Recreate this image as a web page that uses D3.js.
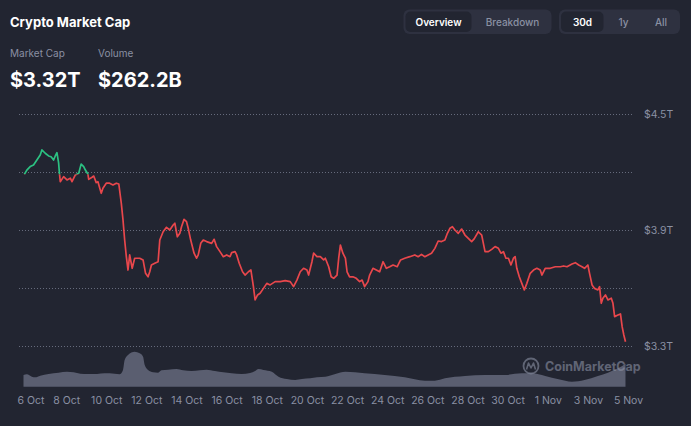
<!DOCTYPE html>
<html>
<head>
<meta charset="utf-8">
<script src="https://cdn.jsdelivr.net/npm/d3@7"></script>
<style>
  html, body { margin: 0; padding: 0; background: #222531; }
  svg { display: block; font-family: Inter, "Noto Sans", sans-serif; }
</style>
</head>
<body>
<svg id="chart" width="691" height="426"></svg>
<script>
// ---------- DATA ----------
const startDate = "2025-10-06T00:00:00";
const endDate = "2025-11-05T00:00:00";
// hours after 6 Oct 00:00
const hours = [-2,1,5,9,13,17,19,23,27,30,33,35,37,39,40,41,45,49,53,55,59,63,66,69,71,74,75,79,81,84,86,90,92,96,100,104,108,111,114,116,118,120,122,124,127,130,136,140,143,146,148,150,154,158,160,164,168,172,176,178,181,184,186,189,192,194,197,201,204,206,209,212,216,222,225,228,232,236,240,244,246,250,252,255,259,262,266,269,272,274,277,280,284,288,292,298,304,310,316,320,324,328,332,336,338,342,344,348,352,356,358,362,365,368,372,374,376,379,382,384,387,391,395,399,402,405,409,411,415,419,423,427,431,435,439,444,448,453,459,465,469,473,477,481,485,489,493,497,501,504,507,510,513,517,521,525,529,533,536,541,545,547,549,553,557,561,565,568,571,574,577,580,583,585,587,590,593,596,599,603,607,611,615,617,621,627,633,639,643,647,653,657,661,665,668,672,674,677,680,684,686,688,690,693,696,700,702,704,708,711,713,715,717];
// market cap, trillions USD
const marketCap = [4.188,4.210,4.228,4.236,4.262,4.288,4.314,4.297,4.283,4.279,4.262,4.283,4.300,4.247,4.193,4.150,4.176,4.159,4.168,4.150,4.185,4.193,4.241,4.228,4.210,4.190,4.162,4.173,4.179,4.145,4.150,4.090,4.116,4.142,4.142,4.133,4.142,4.138,4.038,3.952,3.848,3.762,3.693,3.771,3.702,3.754,3.754,3.745,3.676,3.658,3.684,3.719,3.728,3.736,3.848,3.891,3.914,3.900,3.926,3.935,3.865,3.883,3.917,3.955,3.943,3.909,3.848,3.780,3.754,3.771,3.831,3.848,3.840,3.831,3.852,3.814,3.788,3.762,3.771,3.762,3.783,3.788,3.771,3.728,3.684,3.667,3.684,3.693,3.607,3.538,3.564,3.573,3.598,3.624,3.616,3.633,3.633,3.638,3.633,3.607,3.641,3.684,3.702,3.693,3.667,3.736,3.780,3.762,3.762,3.745,3.754,3.710,3.658,3.650,3.667,3.754,3.822,3.780,3.754,3.684,3.658,3.658,3.650,3.633,3.641,3.607,3.633,3.667,3.702,3.693,3.684,3.736,3.702,3.710,3.719,3.710,3.745,3.754,3.762,3.771,3.762,3.774,3.762,3.771,3.780,3.805,3.843,3.840,3.848,3.883,3.909,3.917,3.900,3.883,3.905,3.874,3.857,3.840,3.854,3.891,3.874,3.831,3.788,3.788,3.800,3.814,3.805,3.780,3.788,3.754,3.754,3.719,3.754,3.762,3.702,3.658,3.624,3.590,3.624,3.676,3.693,3.702,3.693,3.667,3.702,3.702,3.710,3.710,3.714,3.710,3.724,3.731,3.719,3.710,3.702,3.719,3.676,3.616,3.598,3.590,3.607,3.521,3.547,3.564,3.538,3.547,3.521,3.452,3.460,3.466,3.400,3.357,3.322];
// volume, billions USD
const volHours = [-3,1,7,11,17,27,39,49,57,65,74,85,94,106,112,116,118,122,130,136,140,142,146,152,158,162,170,180,188,198,208,216,226,236,246,258,268,274,278,284,294,302,312,322,330,340,348,358,370,382,405,429,453,477,489,501,525,549,573,593,605,621,637,653,668,684,696,708,717];
const volumes = [134,142,114,107,126,145,160,171,165,149,145,145,153,149,142,191,305,362,400,382,343,248,191,165,160,187,194,202,187,179,187,194,179,165,153,145,157,179,202,191,171,114,88,77,88,96,107,114,145,171,153,134,107,69,69,96,122,134,134,153,153,122,85,57,77,122,160,210,262];
const dateTicks = ["2025-10-06","2025-10-08","2025-10-10","2025-10-12","2025-10-14","2025-10-16","2025-10-18","2025-10-20","2025-10-22","2025-10-24","2025-10-26","2025-10-28","2025-10-30","2025-11-01","2025-11-03","2025-11-05"];
const gridTicks = [3.3, 3.6, 3.9, 4.2, 4.5];
const labelTicks = [3.3, 3.9, 4.5];
const title = "Crypto Market Cap";
const statLabels = ["Market Cap", "Volume"];
const statValues = ["$3.32T", "$262.2B"];
const tabs1 = ["Overview", "Breakdown"];
const tabs2 = ["30d", "1y", "All"];

// ---------- SETUP ----------
const svg = d3.select("#chart");
const W = 691, H = 426;
svg.append("rect").attr("width", W).attr("height", H).attr("fill", "#222531");

const t0 = new Date(startDate);
const toDate = h => new Date(t0.getTime() + h * 3600 * 1000);
const series = hours.map((h, i) => ({ t: toDate(h), v: marketCap[i] }));
const volSeries = volHours.map((h, i) => ({ t: toDate(h), v: volumes[i] }));

const x = d3.scaleTime().domain([new Date(startDate), new Date(endDate)]).range([26, 628]);
const y = d3.scaleLinear().domain([3.3, 4.5]).range([346, 114]);
const yv = d3.scaleLinear().domain([0, 460]).range([386.7, 346.45]);
const gridLeft = 17, gridRight = 632;

// ---------- HEADER ----------
svg.append("text").attr("x", 10).attr("y", 26.5).text(title)
  .attr("fill", "#ffffff").attr("font-size", 13).attr("font-weight", 700);
const statX = [10, 98];
statLabels.forEach((s, i) => {
  svg.append("text").attr("x", statX[i]).attr("y", 57).text(s)
    .attr("fill", "#8a90a3").attr("font-size", 10);
  svg.append("text").attr("x", statX[i]).attr("y", 87).text(statValues[i])
    .attr("fill", "#ffffff").attr("font-size", 20).attr("font-weight", 700);
});

function tabGroup(labels, gx, gw, centers, activeX0, activeX1) {
  svg.append("rect").attr("x", gx).attr("y", 9.5).attr("width", gw).attr("height", 24.5)
    .attr("rx", 6).attr("fill", "#2e3140");
  svg.append("rect").attr("x", activeX0).attr("y", 11.5).attr("width", activeX1 - activeX0).attr("height", 20.5)
    .attr("rx", 5).attr("fill", "#222531");
  labels.forEach((l, i) => {
    svg.append("text").attr("x", centers[i]).attr("y", 25.5).text(l)
      .attr("text-anchor", "middle").attr("font-size", 10)
      .attr("font-weight", i === 0 ? 600 : 500)
      .attr("fill", i === 0 ? "#ffffff" : "#8a90a3");
  });
}
tabGroup(tabs1, 403.5, 148, [438.5, 512.5], 405.5, 471.5);
tabGroup(tabs2, 559, 121, [582.5, 623.5, 661], 561, 603.5);

// ---------- GRID ----------
const gg = svg.append("g").attr("transform", `translate(${gridRight},0)`)
  .call(d3.axisRight(y).tickValues(gridTicks).tickSize(-(gridRight - gridLeft)).tickFormat(""));
gg.select(".domain").remove();
gg.selectAll(".tick line").attr("stroke", "#666b7c").attr("stroke-width", 1)
  .attr("stroke-dasharray", "1,2");

// y labels
const ya = svg.append("g").attr("transform", `translate(644,0)`)
  .call(d3.axisRight(y).tickValues(labelTicks).tickSize(0).tickPadding(0)
    .tickFormat(d => `$${d.toFixed(1)}T`));
ya.select(".domain").remove();
ya.selectAll("text").attr("fill", "#8a90a3").attr("font-size", 10.5)
  .attr("font-family", "Inter, 'Noto Sans', sans-serif");

// ---------- VOLUME ----------
const area = d3.area().x(d => x(d.t)).y0(yv(0)).y1(d => yv(d.v)).curve(d3.curveMonotoneX);
svg.append("path").datum(volSeries).attr("d", area).attr("fill", "#5a5e70");

// watermark
const wm = svg.append("g").attr("opacity", 0.6);
wm.append("circle").attr("cx", 531).attr("cy", 366).attr("r", 7.5)
  .attr("fill", "none").attr("stroke", "#8a90a3").attr("stroke-width", 1.8);
wm.append("path").attr("d", "M526.5,369.5 L528.5,363 L531,368 L533.5,363 L535.5,369.5")
  .attr("fill", "none").attr("stroke", "#8a90a3").attr("stroke-width", 1.6).attr("stroke-linejoin", "round");
wm.append("text").attr("x", 545).attr("y", 370.5).text("CoinMarketCap")
  .attr("fill", "#8a90a3").attr("font-size", 12.5).attr("font-weight", 700);

// ---------- LINE ----------
const base = y(marketCap[0]);
const defs = svg.append("defs");
defs.append("clipPath").attr("id", "above").append("rect")
  .attr("x", 0).attr("y", 0).attr("width", W).attr("height", base);
defs.append("clipPath").attr("id", "below").append("rect")
  .attr("x", 0).attr("y", base).attr("width", W).attr("height", H - base);
const line = d3.line().x(d => x(d.t)).y(d => y(d.v));
svg.append("path").datum(series).attr("d", line).attr("fill", "none")
  .attr("stroke", "#e8474c").attr("stroke-width", 1.7).attr("stroke-linejoin", "round")
  .attr("clip-path", "url(#below)");
svg.append("path").datum(series).attr("d", line).attr("fill", "none")
  .attr("stroke", "#2cc182").attr("stroke-width", 1.7).attr("stroke-linejoin", "round")
  .attr("clip-path", "url(#above)");

// ---------- X AXIS ----------
const fmt = d3.timeFormat("%-d %b");
const xa = svg.append("g").attr("transform", "translate(0,397)")
  .call(d3.axisBottom(x).tickValues(dateTicks.map(d => new Date(d + "T00:00:00")))
    .tickSize(0).tickPadding(0).tickFormat(fmt));
xa.select(".domain").remove();
xa.selectAll("text").attr("fill", "#8a90a3").attr("font-size", 10.5)
  .attr("font-family", "Inter, 'Noto Sans', sans-serif");
xa.selectAll(".tick").each(function(d) {
  const t = d3.select(this).select("text");
  const w = t.node().getComputedTextLength();
  const cx = x(d);
  if (cx - w / 2 < gridLeft) t.attr("dx", gridLeft - (cx - w / 2));
});
</script>
</body>
</html>
